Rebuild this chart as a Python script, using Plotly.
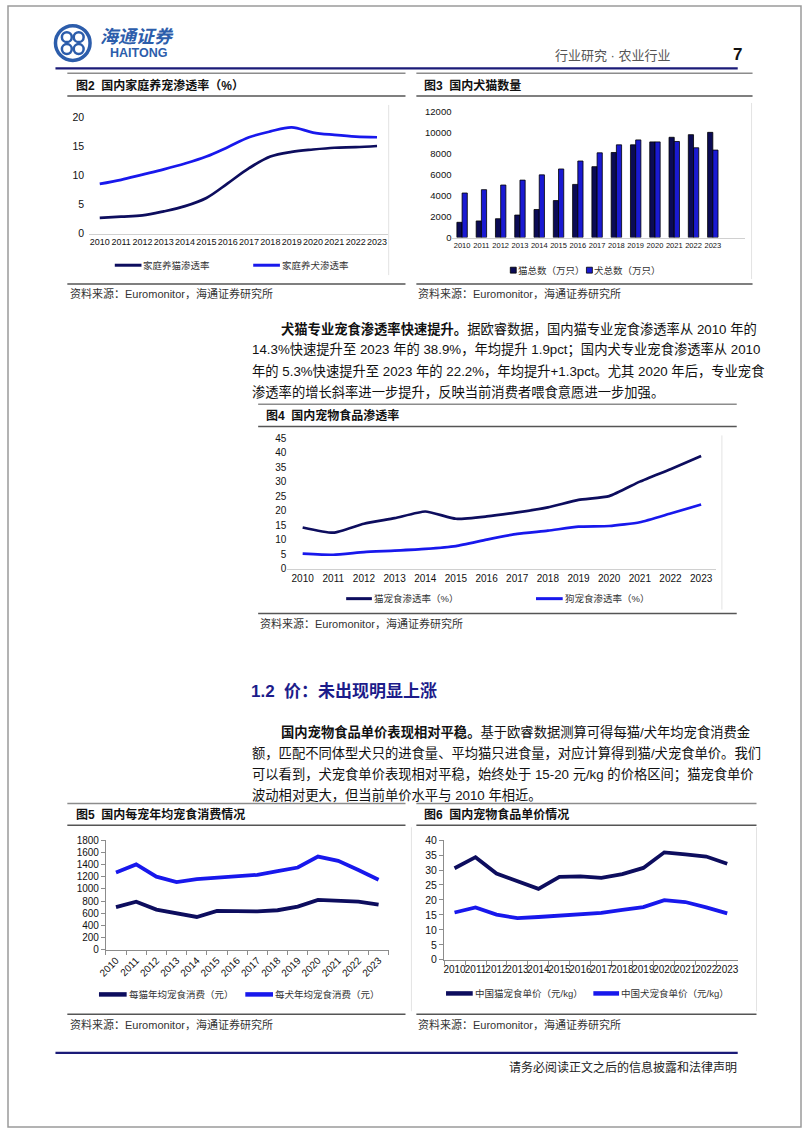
import plotly.graph_objects as go

W, H = 802, 1133
FONT = "Liberation Sans, Noto Sans CJK SC, sans-serif"
NAVY = "#0D0D5E"
BLUE = "#1818EC"
HEAD = "#1B1B78"
TXT = "#222222"

YEARS = ["2010", "2011", "2012", "2013", "2014", "2015", "2016",
         "2017", "2018", "2019", "2020", "2021", "2022", "2023"]

# 图2 家庭养宠渗透率 (%)
home_cat_pct = [2.7, 2.9, 3.1, 3.8, 4.7, 6.1, 8.6, 11.2, 13.2, 14.0, 14.4, 14.7, 14.8, 15.0]
home_dog_pct = [8.5, 9.2, 10.1, 11.0, 12.0, 13.2, 14.8, 16.5, 17.5, 18.2, 17.3, 16.9, 16.6, 16.5]

# 图3 犬猫数量 (万只)
cat_count = [1450, 1580, 1790, 2140, 2670, 3520, 5060, 6750, 8100, 8830, 9110, 9550, 9800, 10020]
dog_count = [4240, 4560, 5000, 5470, 5970, 6530, 7290, 8070, 8830, 9300, 9110, 9150, 8550, 8330]

# 图4 宠物食品渗透率 (%)
cat_food_pct = [14.3, 12.5, 15.6, 17.5, 19.8, 17.3, 18.1, 19.5, 21.2, 23.8, 25.1, 30.1, 34.4, 38.9]
dog_food_pct = [5.3, 4.9, 5.8, 6.3, 6.9, 7.9, 10.1, 12.1, 13.2, 14.6, 14.8, 16.1, 19.1, 22.2]

# 图5 每宠年均宠食消费 (元)
cat_spend = [700, 790, 660, 595, 540, 640, 640, 630, 650, 710, 820, 810, 790, 740]
dog_spend = [1270, 1400, 1200, 1110, 1160, 1185, 1200, 1230, 1290, 1350, 1530, 1460, 1310, 1150]

# 图6 宠物食品单价 (元/kg)
cat_price = [30.6, 34.3, 28.8, 26.3, 23.7, 27.7, 27.9, 27.4, 28.6, 30.7, 35.9, 35.2, 34.5, 32.1]
dog_price = [15.8, 17.5, 15.1, 13.9, 14.3, 14.7, 15.2, 15.7, 16.7, 17.6, 19.9, 19.3, 17.5, 15.5]

PARA1 = [
    "<b>犬猫专业宠食渗透率快速提升。</b>据欧睿数据，国内猫专业宠食渗透率从 2010 年的",
    "14.3%快速提升至 2023 年的 38.9%，年均提升 1.9pct；国内犬专业宠食渗透率从 2010",
    "年的 5.3%快速提升至 2023 年的 22.2%，年均提升+1.3pct。尤其 2020 年后，专业宠食",
    "渗透率的增长斜率进一步提升，反映当前消费者喂食意愿进一步加强。",
]
PARA2 = [
    "<b>国内宠物食品单价表现相对平稳。</b>基于欧睿数据测算可得每猫/犬年均宠食消费金",
    "额，匹配不同体型犬只的进食量、平均猫只进食量，对应计算得到猫/犬宠食单价。我们",
    "可以看到，犬宠食单价表现相对平稳，始终处于 15-20 元/kg 的价格区间；猫宠食单价",
    "波动相对更大，但当前单价水平与 2010 年相近。",
]
SOURCE = "资料来源：Euromonitor，海通证券研究所"


def px(x):
    return x / W


def py(y):
    return 1 - y / H


shapes = []
annotations = []


def hline(x0, x1, y, color="#7F7F7F", width=1.5):
    shapes.append(dict(type="line", xref="paper", yref="paper",
                       x0=px(x0), x1=px(x1), y0=py(y), y1=py(y),
                       line=dict(color=color, width=width)))


def vline(x, y0, y1, color="#E3E3E3", width=1):
    shapes.append(dict(type="line", xref="paper", yref="paper",
                       x0=px(x), x1=px(x), y0=py(y0), y1=py(y1),
                       line=dict(color=color, width=width)))


def text(x, y, s, size=12, color=TXT, anchor="left"):
    annotations.append(dict(xref="paper", yref="paper", x=px(x), y=py(y),
                            text=s, showarrow=False, xanchor=anchor, yanchor="middle",
                            borderpad=0,
                            font=dict(family=FONT, size=size, color=color)))


def legend_line(x0, x1, y, color, width, label):
    hline(x0, x1, y, color, width)
    text(x1 + 1, y, label, size=9.5, color="#333333")


def legend_box(x, y, color, label):
    shapes.append(dict(type="rect", xref="paper", yref="paper",
                       x0=px(x), x1=px(x + 6), y0=py(y + 3), y1=py(y - 3),
                       fillcolor=color, line=dict(color="#000000", width=0.8)))
    text(x + 7, y, label, size=9.5, color="#333333")


def fig_frame(x0, x1, top, under, bottom, title, src_x):
    hline(x0, x1, top, "#8C8C8C", 1.5)
    text(src_x, (top + under) / 2 + 0.5, "<b>" + title + "</b>", size=12, color="#111111")
    hline(x0, x1, under, "#555555", 1.5)
    hline(x0, x1, bottom, "#555555", 1.5)
    text(src_x - 6, bottom + 10, SOURCE, size=11, color="#333333")


fig = go.Figure()

# 图2
fig.add_trace(go.Scatter(x=YEARS, y=home_cat_pct, mode="lines", line=dict(color=NAVY, width=2.7, shape="spline"),
                         xaxis="x", yaxis="y", showlegend=False))
fig.add_trace(go.Scatter(x=YEARS, y=home_dog_pct, mode="lines", line=dict(color=BLUE, width=2.7, shape="spline"),
                         xaxis="x", yaxis="y", showlegend=False))

# 图3
fig.add_trace(go.Bar(x=YEARS, y=cat_count, marker=dict(color="#0B0B55", line=dict(color="#000000", width=0.8)),
                     xaxis="x2", yaxis="y2", showlegend=False))
fig.add_trace(go.Bar(x=YEARS, y=dog_count, marker=dict(color="#1A1AD2", line=dict(color="#000000", width=0.8)),
                     xaxis="x2", yaxis="y2", showlegend=False))

# 图4
fig.add_trace(go.Scatter(x=YEARS, y=cat_food_pct, mode="lines",
                         line=dict(color=NAVY, width=2.7, shape="spline", smoothing=0.5),
                         xaxis="x3", yaxis="y3", showlegend=False))
fig.add_trace(go.Scatter(x=YEARS, y=dog_food_pct, mode="lines",
                         line=dict(color=BLUE, width=2.7, shape="spline", smoothing=0.5),
                         xaxis="x3", yaxis="y3", showlegend=False))

# 图5
fig.add_trace(go.Scatter(x=YEARS, y=cat_spend, mode="lines", line=dict(color=NAVY, width=3.8),
                         xaxis="x4", yaxis="y4", showlegend=False))
fig.add_trace(go.Scatter(x=YEARS, y=dog_spend, mode="lines", line=dict(color=BLUE, width=3.8),
                         xaxis="x4", yaxis="y4", showlegend=False))

# 图6
fig.add_trace(go.Scatter(x=YEARS, y=cat_price, mode="lines", line=dict(color=NAVY, width=3.8),
                         xaxis="x5", yaxis="y5", showlegend=False))
fig.add_trace(go.Scatter(x=YEARS, y=dog_price, mode="lines", line=dict(color=BLUE, width=3.8),
                         xaxis="x5", yaxis="y5", showlegend=False))


def xax(x0, x1, anchor, size, rng=(-0.5, 13.5), **kw):
    d = dict(domain=[px(x0), px(x1)], anchor=anchor, type="category", range=list(rng),
             showgrid=False, zeroline=False, showline=True, linecolor="#D0D0D0", linewidth=1,
             tickangle=0, tickfont=dict(family=FONT, size=size, color="#111111"), fixedrange=True)
    d.update(kw)
    return d


def yax(y0, y1, anchor, rng, dtick, size, **kw):
    d = dict(domain=[py(y0), py(y1)], anchor=anchor, range=list(rng), dtick=dtick,
             showgrid=False, zeroline=False, showline=False, tickformat="d",
             tickfont=dict(family=FONT, size=size, color="#111111"), fixedrange=True)
    d.update(kw)
    return d


AXLINE = dict(showline=True, linecolor="#8C8C8C", linewidth=1, ticks="outside", ticklen=4, tickcolor="#8C8C8C")

layout_axes = dict(
    xaxis=xax(82, 384, "y", 9),
    yaxis=yax(230, 112, "x", (0, 20), 5, 10.5, ticklabelstandoff=4),
    xaxis2=xax(449.5, 745, "y2", 7.5, rng=(-0.5, 14.65)),
    yaxis2=yax(234, 106.7, "x2", (0, 12000), 2000, 9.5),
    xaxis3=xax(282.5, 716.5, "y3", 10),
    yaxis3=yax(569, 437, "x3", (0, 45), 5, 10),
    xaxis4=xax(99, 385, "y4", 10, tickson="boundaries", **AXLINE),
    yaxis4=yax(954, 843, "x4", (0, 1800), 200, 10, **AXLINE),
    xaxis5=xax(441, 738, "y5", 10, tickson="boundaries", **AXLINE),
    yaxis5=yax(964, 843, "x5", (0, 40), 5, 10.5, **AXLINE),
)
layout_axes["xaxis4"]["tickangle"] = -45

# page border
shapes.append(dict(type="rect", xref="paper", yref="paper", x0=0, x1=1, y0=0, y1=1,
                   line=dict(color="#9A9A9A", width=1.5)))

# header / logo
LOGO = "#2C5DAB"
shapes.append(dict(type="circle", xref="paper", yref="paper",
                   x0=px(48), x1=px(83), y0=py(55), y1=py(20), line=dict(color=LOGO, width=3.5)))
for dx, dy in [(-6, -6), (6, -6), (-6, 6), (6, 6)]:
    shapes.append(dict(type="circle", xref="paper", yref="paper",
                       x0=px(65.5 + dx - 5), x1=px(65.5 + dx + 5), y0=py(37.5 + dy + 5), y1=py(37.5 + dy - 5),
                       line=dict(color=LOGO, width=2.5)))
text(92, 31, "<i><b>海通证券</b></i>", size=18, color=LOGO)
text(102, 48, "<b>HAITONG</b>", size=12.5, color=LOGO)
text(672, 50, "行业研究 · 农业行业", size=13, color="#555555", anchor="right")
text(738, 49, "<b>7</b>", size=17, color="#111111", anchor="center")
hline(48, 738, 63, HEAD, 2.2)

# figure frames
fig_frame(60, 402, 68, 91, 281, "图2  国内家庭养宠渗透率（%）", 68)
fig_frame(413, 753, 68, 91, 281, "图3  国内犬猫数量", 420)
fig_frame(253, 737, 402.5, 425, 614, "图4  国内宠物食品渗透率", 260)
fig_frame(60, 402, 806, 828, 1019, "图5  国内每宠年均宠食消费情况", 68)
fig_frame(413, 757, 806, 828, 1019, "图6  国内宠物食品单价情况", 420)

# faint chart-area edges
vline(385, 100, 272)
vline(752, 98, 276)
vline(722, 434, 610)
vline(408, 830, 1016)
vline(757, 830, 1016)

# legends
legend_line(108, 135, 262, NAVY, 3, "家庭养猫渗透率")
legend_line(248, 275, 262, BLUE, 3, "家庭养犬渗透率")
legend_box(508, 267, "#0B0B55", "猫总数（万只）")
legend_box(585, 267, "#1A1AD2", "犬总数（万只）")
legend_line(342, 368, 599, NAVY, 3, "猫宠食渗透率（%）")
legend_line(534, 561, 599, BLUE, 3, "狗宠食渗透率（%）")
legend_line(92, 120, 999, NAVY, 4.5, "每猫年均宠食消费（元）")
legend_line(240, 268, 999, BLUE, 4.5, "每犬年均宠食消费（元）")
legend_line(443, 470, 998, NAVY, 4.5, "中国猫宠食单价（元/kg）")
legend_line(592, 618, 998, BLUE, 4.5, "中国犬宠食单价（元/kg）")

# body text
for i, line in enumerate(PARA1):
    text(275 if i == 0 else 246, 326 + i * 21.3, line, size=13.3, color="#111111")
text(245, 693, "<b>1.2  价：未出现明显上涨</b>", size=17, color="#1C1C8A")
for i, line in enumerate(PARA2):
    text(275 if i == 0 else 246, 734 + i * 21.3, line, size=13.3, color="#111111")

# footer
hline(48, 738, 1058, HEAD, 2.2)
text(738, 1073, "请务必阅读正文之后的信息披露和法律声明", size=12, color="#222222", anchor="right")

fig.update_layout(
    width=W, height=H,
    margin=dict(l=0, r=0, t=0, b=0),
    plot_bgcolor="#FFFFFF", paper_bgcolor="#FFFFFF",
    font=dict(family=FONT, color=TXT),
    barmode="group", bargap=0.46, bargroupgap=0,
    showlegend=False,
    shapes=shapes,
    annotations=annotations,
    **layout_axes,
)

fig.write_html("out.html", config=dict(displayModeBar=False),
               post_script="document.body.style.margin='0px';")
